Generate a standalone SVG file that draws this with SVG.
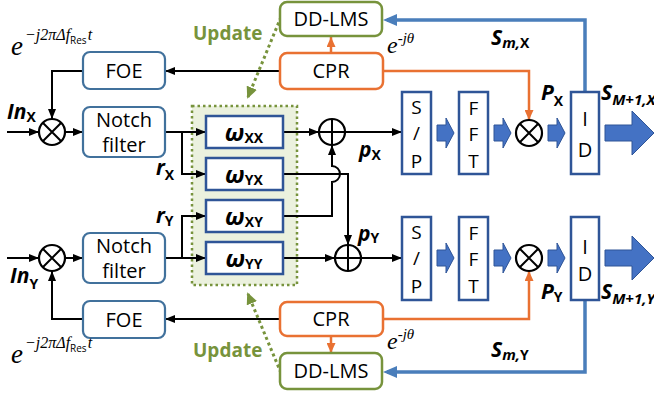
<svg xmlns="http://www.w3.org/2000/svg" width="654" height="399" viewBox="0 0 654 399">
<style>
text{font-family:"Open Sans","Liberation Sans",sans-serif;fill:#000}
.t20{font-size:20px;text-anchor:middle}
.t18{font-size:19px;text-anchor:middle}
.bl{fill:#fff;stroke:#41719C;stroke-width:2.2}
.db{fill:#fff;stroke:#2F5597;stroke-width:2.5}
.gr{fill:#fff;stroke:#77933C;stroke-width:2.5}
.or{fill:#fff;stroke:#E97132;stroke-width:2.5}
.sym{fill:#fff;stroke:#000;stroke-width:2.2}
.ln{fill:none;stroke:#000;stroke-width:2}
.lo{fill:none;stroke:#E97132;stroke-width:2.5}
.lb{fill:none;stroke:#4A7EBB;stroke-width:3.5}
.lg{fill:none;stroke:#77933C;stroke-width:3;stroke-dasharray:3 3}
.ba{fill:#4472C4;stroke:#2F5597;stroke-width:1}
.w{font-size:24px;font-weight:bold;font-style:italic;text-anchor:middle}
.lab{font-weight:bold;font-style:italic;font-size:21px}
.sub{font-size:14px;font-style:normal}
.math{font-family:"Liberation Serif","DejaVu Serif",serif;font-style:italic}
.upd{font-size:19px;font-weight:bold;fill:#77933C}
</style>
<defs>
<marker id="ab" markerUnits="userSpaceOnUse" markerWidth="10" markerHeight="8" refX="10" refY="4" orient="auto"><path d="M0,0 L10,4 L0,8 z" fill="#000"/></marker>
<marker id="ao" markerUnits="userSpaceOnUse" markerWidth="10" markerHeight="9" refX="10" refY="4.5" orient="auto"><path d="M0,0 L10,4.5 L0,9 z" fill="#E97132"/></marker>
<marker id="abl" markerUnits="userSpaceOnUse" markerWidth="14" markerHeight="12" refX="10" refY="6" orient="auto"><path d="M0,0 L14,6 L0,12 z" fill="#4A7EBB"/></marker>
<marker id="ag" markerUnits="userSpaceOnUse" markerWidth="12" markerHeight="11" refX="10" refY="5.5" orient="auto"><path d="M0,0 L12,5.5 L0,11 z" fill="#77933C"/></marker>
</defs>

<!-- Equalizer background -->
<g id="mimo">
<rect x="192" y="106" width="105" height="179" fill="#EBF1DE" stroke="#77933C" stroke-width="2.5" stroke-dasharray="2.5 3"/>
</g>

<!-- connectors -->
<g id="connectors">
<path class="ln" d="M7,132 H39" marker-end="url(#ab)"/>
<path class="ln" d="M83,71 H52 V119" marker-end="url(#ab)"/>
<path class="ln" d="M65,132 H83" marker-end="url(#ab)"/>
<path class="ln" d="M165,132 H206" marker-end="url(#ab)"/>
<path class="ln" d="M182,132 V174 H206" marker-end="url(#ab)"/>
<path class="ln" d="M280,71 H165" marker-end="url(#ab)"/>
<path class="ln" d="M7,258 H39" marker-end="url(#ab)"/>
<path class="ln" d="M83,319 H52 V271" marker-end="url(#ab)"/>
<path class="ln" d="M65,258 H83" marker-end="url(#ab)"/>
<path class="ln" d="M165,258 H206" marker-end="url(#ab)"/>
<path class="ln" d="M182,258 V216 H206" marker-end="url(#ab)"/>
<path class="ln" d="M280,319 H165" marker-end="url(#ab)"/>
<path class="ln" d="M283,132 H319" marker-end="url(#ab)"/>
<path class="ln" d="M283,174 H348 V245" marker-end="url(#ab)"/>
<path class="ln" d="M283,216 H332 V182 A8,8 0 0 0 332,166 V145" marker-end="url(#ab)"/>
<path class="ln" d="M283,258 H335" marker-end="url(#ab)"/>
<path class="ln" d="M345,132 H402" marker-end="url(#ab)"/>
<path class="ln" d="M361,258 H402" marker-end="url(#ab)"/>
<path class="ba" d="M437,125 H446 V118 L454,133 L446,148 V141 H437 Z"/>
<path class="ba" d="M494,125 H503 V118 L511,133 L503,148 V141 H494 Z"/>
<path class="ba" d="M548,125 H557 V118 L565,133 L557,148 V141 H548 Z"/>
<path class="ba" d="M437,250 H446 V243 L454,258 L446,273 V266 H437 Z"/>
<path class="ba" d="M494,250 H503 V243 L511,258 L503,273 V266 H494 Z"/>
<path class="ba" d="M548,250 H557 V243 L565,258 L557,273 V266 H548 Z"/>
<path class="ba" d="M605,125 H632 V111 L654,133 L632,155 V141 H605 Z"/>
<path class="ba" d="M605,250 H632 V236 L654,258 L632,280 V266 H605 Z"/>
<path class="lo" d="M383,71 H529 V120" marker-end="url(#ao)"/>
<path class="lo" d="M331,53 V37" marker-end="url(#ao)"/>
<path class="lo" d="M383,319 H529 V271" marker-end="url(#ao)"/>
<path class="lo" d="M331,336 V353" marker-end="url(#ao)"/>
<path class="lb" d="M585,92 V20 H387" marker-end="url(#abl)"/>
<path class="lb" d="M585,300 V372 H387" marker-end="url(#abl)"/>
<path class="lg" d="M281,17 L248,97" marker-end="url(#ag)"/>
<path class="lg" d="M281,373 L248,294" marker-end="url(#ag)"/>
</g>

<!-- nodes -->
<g id="mixIn_X"><circle class="sym" cx="52" cy="132" r="13"/><path class="ln" d="M42.8,122.8 L61.2,141.2 M61.2,122.8 L42.8,141.2"/></g>
<g id="mixIn_Y"><circle class="sym" cx="52" cy="258" r="13"/><path class="ln" d="M42.8,248.8 L61.2,267.2 M61.2,248.8 L42.8,267.2"/></g>

<g id="foe_X"><rect class="bl" x="83" y="52" width="82" height="37" rx="7"/><text class="t20" x="124" y="78">FOE</text></g>
<g id="foe_Y"><rect class="bl" x="83" y="301" width="82" height="37" rx="7"/><text class="t20" x="124" y="327">FOE</text></g>
<g id="notch_X"><rect class="bl" x="83" y="107" width="82" height="50" rx="7"/><text class="t20" x="124" y="127">Notch</text><text class="t20" x="124" y="152">filter</text></g>
<g id="notch_Y"><rect class="bl" x="83" y="233" width="82" height="50" rx="7"/><text class="t20" x="124" y="253">Notch</text><text class="t20" x="124" y="278">filter</text></g>

<g id="w_XX"><rect class="db" x="206" y="116" width="77" height="32"/><text class="w" x="244" y="141">ω<tspan class="sub" font-size="15" font-weight="bold" dy="2">XX</tspan></text></g>
<g id="w_YX"><rect class="db" x="206" y="158" width="77" height="32"/><text class="w" x="244" y="183">ω<tspan class="sub" font-size="15" font-weight="bold" dy="2">YX</tspan></text></g>
<g id="w_XY"><rect class="db" x="206" y="200" width="77" height="32"/><text class="w" x="244" y="225">ω<tspan class="sub" font-size="15" font-weight="bold" dy="2">XY</tspan></text></g>
<g id="w_YY"><rect class="db" x="206" y="242" width="77" height="32"/><text class="w" x="244" y="267">ω<tspan class="sub" font-size="15" font-weight="bold" dy="2">YY</tspan></text></g>

<g id="add_X"><circle class="sym" cx="332" cy="132" r="13"/><path class="ln" d="M319,132 H345 M332,119 V145"/></g>
<g id="add_Y"><circle class="sym" cx="348" cy="258" r="13"/><path class="ln" d="M335,258 H361 M348,245 V271"/></g>

<g id="sp_X"><rect class="db" x="402" y="92" width="29" height="82"/><text class="t18" x="416.5" y="114">S</text><text class="t18" x="416.5" y="140">/</text><text class="t18" x="416.5" y="168">P</text></g>
<g id="sp_Y"><rect class="db" x="402" y="217" width="29" height="83"/><text class="t18" x="416.5" y="239">S</text><text class="t18" x="416.5" y="265">/</text><text class="t18" x="416.5" y="293">P</text></g>
<g id="fft_X"><rect class="db" x="459" y="92" width="29" height="82"/><text class="t18" x="473.5" y="115">F</text><text class="t18" x="473.5" y="141">F</text><text class="t18" x="473.5" y="168">T</text></g>
<g id="fft_Y"><rect class="db" x="459" y="217" width="29" height="83"/><text class="t18" x="473.5" y="240">F</text><text class="t18" x="473.5" y="266">F</text><text class="t18" x="473.5" y="293">T</text></g>

<g id="mixOut_X"><circle class="sym" cx="529" cy="133" r="13"/><path class="ln" d="M519.8,123.8 L538.2,142.2 M538.2,123.8 L519.8,142.2"/></g>
<g id="mixOut_Y"><circle class="sym" cx="529" cy="258" r="13"/><path class="ln" d="M519.8,248.8 L538.2,267.2 M538.2,248.8 L519.8,267.2"/></g>

<g id="id_X"><rect class="db" x="571" y="92" width="28" height="82"/><text class="t20" x="585" y="126" font-size="22">I</text><text class="t20" x="585" y="157">D</text></g>
<g id="id_Y"><rect class="db" x="571" y="217" width="28" height="83"/><text class="t20" x="585" y="254" font-size="22">I</text><text class="t20" x="585" y="281">D</text></g>

<g id="cpr_X"><rect class="or" x="280" y="53" width="103" height="36" rx="7"/><text class="t20" x="331" y="78">CPR</text></g>
<g id="cpr_Y"><rect class="or" x="280" y="302" width="103" height="34" rx="7"/><text class="t20" x="331" y="326">CPR</text></g>
<g id="ddlms_X"><rect class="gr" x="280" y="2" width="102" height="34" rx="7"/><text class="t20" x="331" y="26">DD-LMS</text></g>
<g id="ddlms_Y"><rect class="gr" x="280" y="353" width="102" height="36" rx="7"/><text class="t20" x="331" y="378">DD-LMS</text></g>

<!-- labels -->
<g id="labels">
<text class="math" x="11" y="55"><tspan font-size="27">e</tspan><tspan font-size="16" dy="-15" dx="2">−j2πΔf</tspan><tspan font-size="10" font-style="normal" font-family="Open Sans, sans-serif" dy="4">Res</tspan><tspan font-size="16" dy="-4" dx="1">t</tspan></text>
<text class="math" x="11" y="363"><tspan font-size="27">e</tspan><tspan font-size="16" dy="-15" dx="2">−j2πΔf</tspan><tspan font-size="10" font-style="normal" font-family="Open Sans, sans-serif" dy="4">Res</tspan><tspan font-size="16" dy="-4" dx="1">t</tspan></text>
<text class="math" x="387" y="53"><tspan font-size="24">e</tspan><tspan font-size="15" dy="-10">-jθ</tspan></text>
<text class="math" x="387" y="349"><tspan font-size="24">e</tspan><tspan font-size="15" dy="-10">-jθ</tspan></text>
<text class="upd" x="193" y="40">Update</text>
<text class="upd" x="193" y="357">Update</text>
<text class="lab" x="7" y="119" font-size="19">In<tspan class="sub" font-weight="bold" dy="3">X</tspan></text>
<text class="lab" x="10" y="283" font-size="19">In<tspan class="sub" font-weight="bold" dy="6">Y</tspan></text>
<text class="lab" x="156" y="175" font-size="19">r<tspan class="sub" font-weight="bold" dy="5">X</tspan></text>
<text class="lab" x="156" y="223" font-size="19">r<tspan class="sub" font-weight="bold" dy="3">Y</tspan></text>
<text class="lab" x="359" y="157">p<tspan class="sub" font-weight="bold" dy="3">X</tspan></text>
<text class="lab" x="358" y="241">p<tspan class="sub" font-weight="bold" dy="2">Y</tspan></text>
<text class="lab" x="541" y="100">P<tspan class="sub" font-size="15" font-weight="bold" dy="6">X</tspan></text>
<text class="lab" x="541" y="299">P<tspan class="sub" font-size="15" font-weight="bold" dy="3">Y</tspan></text>
<text class="lab" x="601" y="100">S<tspan font-size="15" dy="5">M+1,X</tspan></text>
<text class="lab" x="601" y="299">S<tspan font-size="15" dy="5">M+1,Y</tspan></text>
<text class="lab" x="491" y="45">S<tspan font-size="15" dy="3">m,</tspan><tspan class="sub" font-size="15" font-weight="bold">X</tspan></text>
<text class="lab" x="491" y="357">S<tspan font-size="15" dy="3">m,</tspan><tspan class="sub" font-size="15" font-weight="bold">Y</tspan></text>
</g>
</svg>
